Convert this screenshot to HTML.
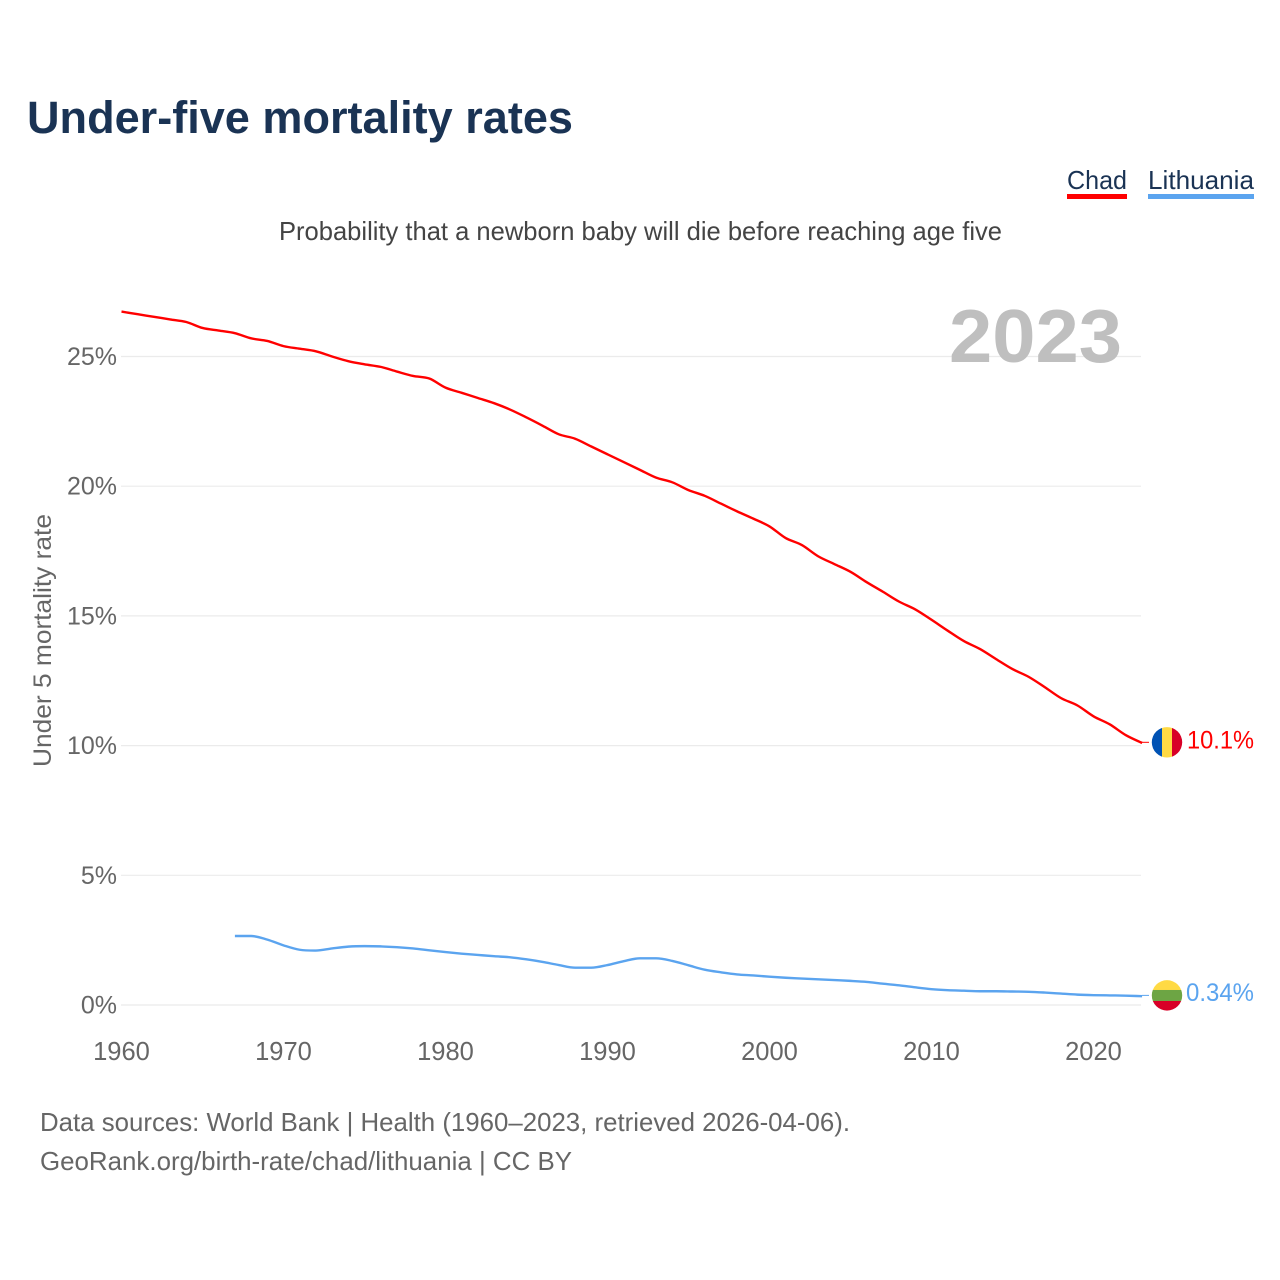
<!DOCTYPE html>
<html lang="en">
<head>
<meta charset="utf-8">
<title>Under-five mortality rates</title>
<style>
html,body{margin:0;padding:0;background:#fff;}
svg{display:block;font-family:"Liberation Sans",sans-serif;}
</style>
</head>
<body>
<svg id="chart" xmlns="http://www.w3.org/2000/svg" width="1280" height="1280" viewBox="0 0 1280 1280">
  <rect x="0" y="0" width="1280" height="1280" fill="#fff"/>
  <text x="27" y="133" font-size="45" font-weight="700" fill="#1a3354" textLength="546" lengthAdjust="spacingAndGlyphs">Under-five mortality rates</text>
  <text x="279" y="240" font-size="26" fill="#444" textLength="723" lengthAdjust="spacingAndGlyphs">Probability that a newborn baby will die before reaching age five</text>

  <g>
    <text x="1067" y="189" font-size="26" fill="#1a3354" textLength="60" lengthAdjust="spacingAndGlyphs">Chad</text>
    <rect x="1067" y="194" width="60" height="5" fill="#ff0000"/>
  </g>
  <g>
    <text x="1148" y="189" font-size="26" fill="#1a3354" textLength="106" lengthAdjust="spacingAndGlyphs">Lithuania</text>
    <rect x="1148" y="194" width="106" height="5" fill="#5ba4ef"/>
  </g>

  <g id="grid"></g>
  <g id="yticks"></g>
  <g id="xticks"></g>

  <text x="949" y="362" font-size="75" font-weight="700" fill="#bfbfbf" textLength="173" lengthAdjust="spacingAndGlyphs">2023</text>
  <text transform="translate(51,767) rotate(-90)" font-size="25" fill="#666" textLength="253" lengthAdjust="spacingAndGlyphs">Under 5 mortality rate</text>

  <g id="series"></g>
  <g id="endpoints"></g>

  <text x="40" y="1131" font-size="26" fill="#666" textLength="810" lengthAdjust="spacingAndGlyphs">Data sources: World Bank | Health (1960–2023, retrieved 2026-04-06).</text>
  <text x="40" y="1170" font-size="26" fill="#666" textLength="532" lengthAdjust="spacingAndGlyphs">GeoRank.org/birth-rate/chad/lithuania | CC BY</text>
</svg>
<script>
var yTickValues = [0, 5, 10, 15, 20, 25];
var yTickLabels = ['0%', '5%', '10%', '15%', '20%', '25%'];
var xTickValues = [1960, 1970, 1980, 1990, 2000, 2010, 2020];
var xTickLabels = ['1960', '1970', '1980', '1990', '2000', '2010', '2020'];

var chadYears = [1960,1961,1962,1963,1964,1965,1966,1967,1968,1969,1970,1971,1972,1973,1974,1975,1976,1977,1978,1979,1980,1981,1982,1983,1984,1985,1986,1987,1988,1989,1990,1991,1992,1993,1994,1995,1996,1997,1998,1999,2000,2001,2002,2003,2004,2005,2006,2007,2008,2009,2010,2011,2012,2013,2014,2015,2016,2017,2018,2019,2020,2021,2022,2023];
var chadValues = [26.73,26.63,26.53,26.43,26.33,26.1,26.0,25.9,25.7,25.6,25.4,25.3,25.2,25.0,24.82,24.7,24.6,24.42,24.25,24.15,23.8,23.6,23.4,23.2,22.95,22.65,22.33,22.0,21.83,21.53,21.23,20.93,20.63,20.33,20.15,19.85,19.63,19.33,19.03,18.75,18.45,18.0,17.73,17.3,17.0,16.7,16.3,15.93,15.55,15.25,14.85,14.43,14.03,13.72,13.33,12.95,12.65,12.25,11.83,11.55,11.13,10.82,10.4,10.1];

var lithuaniaYears = [1967,1968,1969,1970,1971,1972,1973,1974,1975,1976,1977,1978,1979,1980,1981,1982,1983,1984,1985,1986,1987,1988,1989,1990,1991,1992,1993,1994,1995,1996,1997,1998,1999,2000,2001,2002,2003,2004,2005,2006,2007,2008,2009,2010,2011,2012,2013,2014,2015,2016,2017,2018,2019,2020,2021,2022,2023];
var lithuaniaValues = [2.66,2.66,2.52,2.3,2.13,2.1,2.18,2.25,2.27,2.26,2.23,2.18,2.11,2.04,1.98,1.93,1.88,1.84,1.76,1.66,1.54,1.44,1.44,1.54,1.69,1.8,1.8,1.7,1.53,1.36,1.26,1.18,1.14,1.09,1.05,1.02,0.99,0.96,0.93,0.89,0.82,0.76,0.68,0.61,0.57,0.55,0.53,0.53,0.52,0.51,0.48,0.44,0.4,0.38,0.37,0.36,0.34];

var chadValueLabel = ['10.1%'];
var lithuaniaValueLabel = ['0.34%'];

var NS = 'http://www.w3.org/2000/svg';

function xScale(year) {
  return 121.5 + (year - 1960) * 16.2;
}
function yScale(value) {
  return 1005 - value * 25.94;
}

function make(tag, attrs, parent) {
  var el = document.createElementNS(NS, tag);
  for (var k in attrs) el.setAttribute(k, attrs[k]);
  parent.appendChild(el);
  return el;
}

/* monotone cubic path through the data points */
function monotonePath(px, py) {
  var n = px.length, m = [], d = [];
  for (var i = 0; i < n - 1; i++) {
    d.push((py[i + 1] - py[i]) / (px[i + 1] - px[i]));
  }
  m[0] = d[0];
  m[n - 1] = d[n - 2];
  for (var j = 1; j < n - 1; j++) {
    m[j] = d[j - 1] * d[j] <= 0 ? 0 : (d[j - 1] + d[j]) / 2;
  }
  var s = 'M' + px[0].toFixed(2) + ',' + py[0].toFixed(2);
  for (var t = 0; t < n - 1; t++) {
    var h = (px[t + 1] - px[t]) / 3;
    s += 'C' + (px[t] + h).toFixed(2) + ',' + (py[t] + m[t] * h).toFixed(2) + ' ' +
      (px[t + 1] - h).toFixed(2) + ',' + (py[t + 1] - m[t + 1] * h).toFixed(2) + ' ' +
      px[t + 1].toFixed(2) + ',' + py[t + 1].toFixed(2);
  }
  return s;
}

var gridGroup = document.getElementById('grid');
var yTickGroup = document.getElementById('yticks');
var xTickGroup = document.getElementById('xticks');
var seriesGroup = document.getElementById('series');
var endGroup = document.getElementById('endpoints');

yTickValues.forEach(function (v, i) {
  var line = make('line', { x1: 121, x2: 1141, y1: yScale(v), y2: yScale(v), stroke: '#ebebeb', 'stroke-width': 1.2 }, gridGroup);
  
  
  var label = make('text', { x: 117, y: yScale(v) + 8.5, 'text-anchor': 'end', 'font-size': 25, fill: '#666' }, yTickGroup);
  
  
  label.textContent = yTickLabels[i];
});

xTickValues.forEach(function (v, i) {
  var label = make('text', { x: xScale(v), y: 1060, 'text-anchor': 'middle', 'font-size': 25.5, fill: '#666' }, xTickGroup);
  
  
  label.textContent = xTickLabels[i];
});

var chadPath = make('path', {
  d: monotonePath(chadYears.map(xScale), chadValues.map(yScale)),
  fill: 'none', stroke: '#ff0000', 'stroke-width': 2.4, 'stroke-linejoin': 'round'
}, seriesGroup);



var lithuaniaPath = make('path', {
  d: monotonePath(lithuaniaYears.map(xScale), lithuaniaValues.map(yScale)),
  fill: 'none', stroke: '#5ba4ef', 'stroke-width': 2.4, 'stroke-linejoin': 'round'
}, seriesGroup);



/* end markers follow the last data value */
var chadLastY = yScale(chadValues[chadValues.length - 1]) - 0.7;
var lithuaniaLastY = yScale(lithuaniaValues[lithuaniaValues.length - 1]) - 0.8;

var chadConnector = make('line', { x1: 1142, x2: 1149, y1: chadLastY, y2: chadLastY, stroke: '#ff0000', 'stroke-width': 1 }, endGroup);



var lithuaniaConnector = make('line', { x1: 1142, x2: 1149, y1: lithuaniaLastY, y2: lithuaniaLastY, stroke: '#5ba4ef', 'stroke-width': 1 }, endGroup);



var defs = make('defs', {}, endGroup);
var clipChad = make('clipPath', { id: 'clip-chad' }, defs);
make('circle', { cx: 1167, cy: chadLastY, r: 15.2 }, clipChad);
var clipLithuania = make('clipPath', { id: 'clip-lithuania' }, defs);
make('circle', { cx: 1167, cy: lithuaniaLastY, r: 15.2 }, clipLithuania);

var chadFlag = make('g', { 'clip-path': 'url(#clip-chad)' }, endGroup);


make('rect', { x: 1151, y: chadLastY - 16, width: 11, height: 32, fill: '#0052b4' }, chadFlag);
make('rect', { x: 1162, y: chadLastY - 16, width: 10, height: 32, fill: '#ffda44' }, chadFlag);
make('rect', { x: 1172, y: chadLastY - 16, width: 11, height: 32, fill: '#d80027' }, chadFlag);

var lithuaniaFlag = make('g', { 'clip-path': 'url(#clip-lithuania)' }, endGroup);


make('rect', { x: 1151, y: lithuaniaLastY - 16, width: 32, height: 11, fill: '#ffda44' }, lithuaniaFlag);
make('rect', { x: 1151, y: lithuaniaLastY - 5.4, width: 32, height: 11, fill: '#6da544' }, lithuaniaFlag);
make('rect', { x: 1151, y: lithuaniaLastY + 5.6, width: 32, height: 11, fill: '#d80027' }, lithuaniaFlag);

var chadValueText = make('text', { x: 1187, y: chadLastY + 6, 'font-size': 25, fill: '#ff0000', textLength: 67, lengthAdjust: 'spacingAndGlyphs' }, endGroup);


chadValueText.textContent = chadValueLabel[0];

var lithuaniaValueText = make('text', { x: 1186, y: lithuaniaLastY + 5.5, 'font-size': 25, fill: '#5ba4ef', textLength: 68, lengthAdjust: 'spacingAndGlyphs' }, endGroup);


lithuaniaValueText.textContent = lithuaniaValueLabel[0];
</script>
</body>
</html>
